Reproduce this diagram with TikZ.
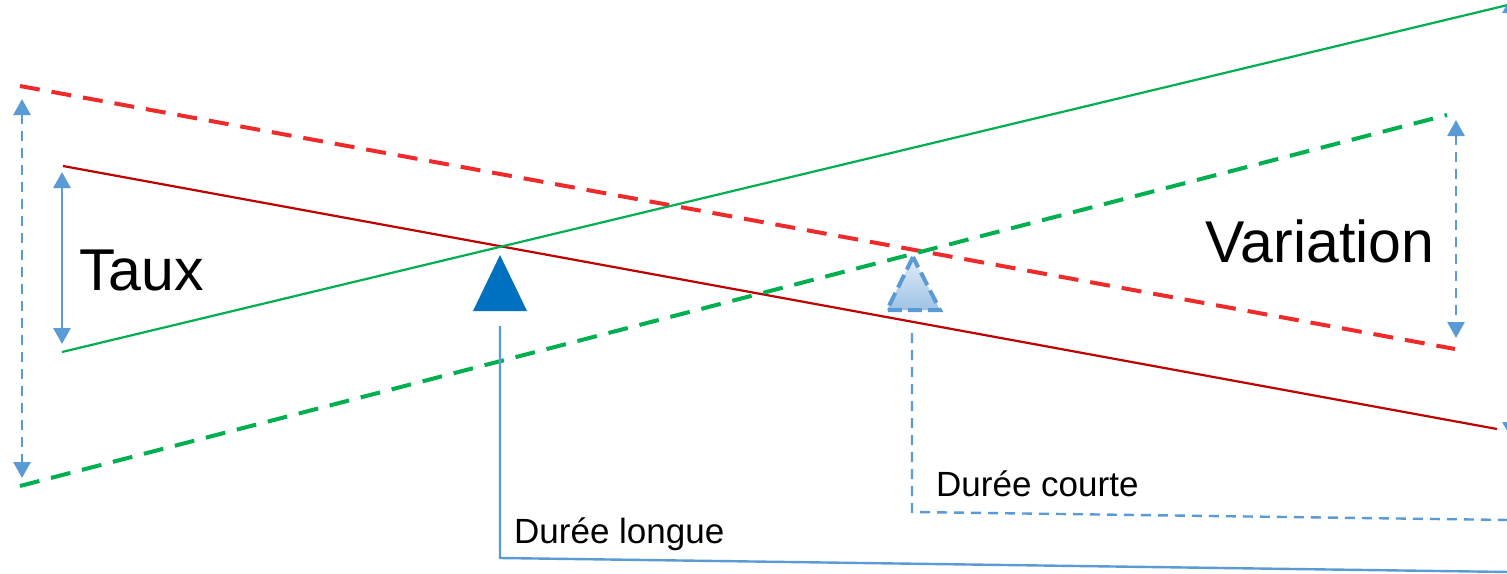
\documentclass[tikz,border=0pt]{standalone}
\usepackage{fontspec}
\setmainfont{Liberation Sans}
\usetikzlibrary{arrows.meta}
\definecolor{rdash}{HTML}{EE2A2A}
\definecolor{rsolid}{HTML}{C00000}
\definecolor{grn}{HTML}{00B050}
\definecolor{lblue}{HTML}{5B9BD5}
\definecolor{dblue}{HTML}{0070C0}
\definecolor{shtop}{HTML}{E2EDF8}
\definecolor{shbot}{HTML}{9DC3E6}
\tikzset{
  solidline/.style={line width=2.2pt},
  dashline/.style={line width=4pt, dash pattern=on 20pt off 12pt},
  bluearrow/.style={lblue, line width=2.8pt, {Triangle[width=17pt,length=16pt]}-{Triangle[width=17pt,length=16pt]}},
  bluedash/.style={dash pattern=on 10pt off 7pt},
  lbl/.style={font=\fontsize{35}{40}\selectfont, inner sep=0pt, anchor=west},
  big/.style={font=\fontsize{59}{66}\selectfont, inner sep=0pt}
}
\begin{document}
\begin{tikzpicture}[x=1pt,y=-1pt]
\clip (0,0) rectangle (1507,573);
\useasboundingbox (0,0) rectangle (1507,573);
\fill[white] (0,0) rectangle (1507,573);
% coordinates
\coordinate (rdA) at (20,86);    \coordinate (rdB) at (1455,349);
\coordinate (rsA) at (63,166);   \coordinate (rsB) at (1497,429);
\coordinate (gsA) at (62,352);   \coordinate (gsB) at (1512,4);
\coordinate (gdA) at (20,486);   \coordinate (gdB) at (1447,115);
% lines
\draw[dashline, rdash] (rdA) -- (rdB);
\draw[solidline, rsolid] (rsA) -- (rsB);
\draw[solidline, grn] (gsA) -- (gsB);
\draw[dashline, grn] (gdA) -- (gdB);
% arrows
\coordinate (lt) at (22,99);  \coordinate (lb) at (22,478);
\draw[bluearrow, bluedash] (lt) -- (lb);
\coordinate (tt) at (62,172); \coordinate (tb) at (62,344);
\draw[bluearrow] (tt) -- (tb);
\coordinate (vt) at (1456,120); \coordinate (vb) at (1456,338);
\draw[bluearrow, bluedash] (vt) -- (vb);
\coordinate (et) at (1511,-3); \coordinate (eb) at (1511,438);
\draw[bluearrow] (et) -- (eb);
% triangles
\coordinate (t1a) at (500,255); \coordinate (t1b) at (473,311); \coordinate (t1c) at (527,311);
\fill[dblue] (t1a) -- (t1b) -- (t1c) -- cycle;
\coordinate (t2a) at (913,257); \coordinate (t2b) at (887,310); \coordinate (t2c) at (940,310);
\shade[top color=shtop, bottom color=shbot] (t2a) -- (t2b) -- (t2c) -- cycle;
\draw[lblue, line width=4pt, dash pattern=on 14pt off 6pt, line join=miter] (t2a) -- (t2b) -- (t2c) -- cycle;
% duration lines
\coordinate (dl1) at (500,326); \coordinate (dl2) at (500,558); \coordinate (dl3) at (1510,572);
\draw[lblue, line width=2.4pt] (dl1) -- (dl2) -- (dl3);
\coordinate (dc1) at (912,333); \coordinate (dc2) at (912,512); \coordinate (dc3) at (1510,520);
\draw[lblue, line width=2.4pt, bluedash] (dc1) -- (dc2) -- (dc3);
% texts
\node[big, anchor=west] (taux) at (79,270) {Taux};
\node[big] (var) at (1320,241) {Variation};
\node[lbl] (dcourte) at (936,484) {Durée courte};
\node[lbl] (dlongue) at (514,534) {Durée longue};
\end{tikzpicture}
\end{document}
